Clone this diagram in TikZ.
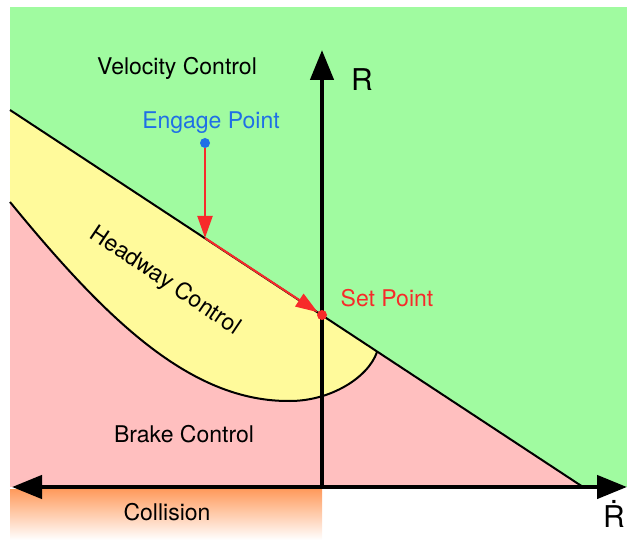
\documentclass[tikz,border=0pt]{standalone}
\usepackage{fontspec}
\setmainfont{TeX Gyre Heros}
\usetikzlibrary{arrows.meta}
\definecolor{velfill}{HTML}{A0FBA0}
\definecolor{hdwfill}{HTML}{FFFA9B}
\definecolor{brkfill}{HTML}{FFBFBF}
\definecolor{colfill}{HTML}{FF9A5C}
\definecolor{engline}{HTML}{1F6FE6}
\definecolor{setline}{HTML}{F72A2A}
\tikzset{
  bound/.style  = {line width=2pt, draw=black},
  axis/.style   = {line width=4.5pt, draw=black, -{Triangle[length=30pt, width=23pt]}},
  axisboth/.style={line width=4.5pt, draw=black,
                  {Triangle[length=30pt, width=23pt]}-{Triangle[length=30pt, width=23pt]}},
  moveline/.style={line width=2pt, draw=setline, -{Triangle[length=22pt, width=15pt]}},
  lbl/.style    = {font=\fontsize{23}{27}\selectfont, inner sep=0pt},
  axlbl/.style  = {font=\fontsize{30}{34}\selectfont, inner sep=0pt},
  dot/.style    = {circle, inner sep=0pt, minimum size=10pt},
}

\begin{document}
\begin{tikzpicture}[x=1pt, y=-1pt]
  \useasboundingbox (0,0) rectangle (627,540);
  % regions
  \fill[velfill] (10,7) rectangle (627,487);
  \fill[brkfill] (10,110) -- (583,487) -- (10,487) -- cycle;
  \fill[hdwfill] (10,110) -- (377,352) .. controls (368,378) and (330,401) .. (290,401)
                 .. controls (190,402) and (105,318) .. (10,202) -- cycle;
  \shade[top color=colfill, bottom color=white] (10,489) rectangle (322,540);
  % boundaries
  \draw[bound] (10,110) -- (583,487);
  \draw[bound] (377,352) .. controls (368,378) and (330,401) .. (290,401)
               .. controls (190,402) and (105,318) .. (10,202);
  % axes
  \coordinate (orig) at (322,487);
  \coordinate (rtip) at (322,50);
  \coordinate (rdtip) at (627,487);
  \coordinate (coltip) at (12,487);
  \draw[axis] (orig) -- (rtip);
  \draw[axisboth] (coltip) -- (rdtip);
  % points
  \node[dot, fill=engline] (engage) at (205,143) {};
  \coordinate (bend) at (205,238);
  \node[dot, fill=setline] (set) at (322,315) {};
  \draw[moveline] (engage) -- (bend);
  \draw[moveline] (bend) -- (set);
  % labels
  \node[lbl] (velocity) at (177,68) {Velocity Control};
  \node[lbl, text=engline] (engagelbl) at (211,123) {Engage Point};
  \node[lbl, text=setline] (setlbl) at (387,298) {Set Point};
  \node[lbl, rotate=-34] (headway) at (165,281) {Headway Control};
  \node[lbl] (brake) at (184,434) {Brake Control};
  \node[lbl] (collision) at (167,512) {Collision};
  \node[axlbl] (rlbl) at (362,80) {R};
  \node[axlbl] (rdotlbl) at (614,514) {\.{R}};
\end{tikzpicture}
\end{document}
